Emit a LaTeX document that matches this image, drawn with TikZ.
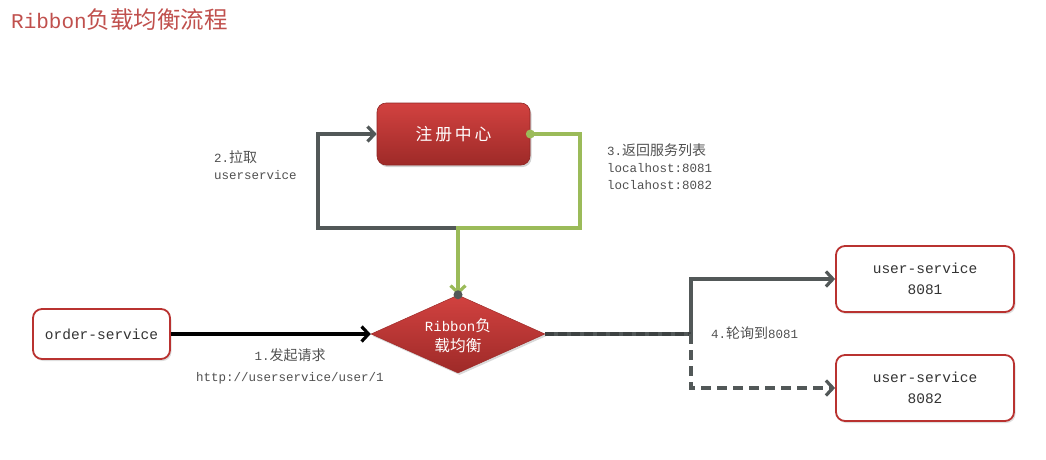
\documentclass[tikz,border=0pt]{standalone}
\usepackage{fontspec}
\setmainfont{Liberation Mono}
\newfontfamily\cjk[Scale=1.12]{Noto Sans CJK SC}
\usetikzlibrary{arrows.meta,shapes.geometric,shadows,calc}
\definecolor{titlered}{RGB}{192,80,77}
\definecolor{boxtop}{RGB}{210,66,64}
\definecolor{boxbot}{RGB}{158,42,40}
\definecolor{boxborder}{RGB}{185,50,48}
\definecolor{darkline}{RGB}{82,88,88}
\definecolor{greenline}{RGB}{155,187,89}
\definecolor{labelgray}{RGB}{80,80,80}
\tikzset{
  redbox/.style={draw=boxbot!90!black, line width=0.6pt, rounded corners=9pt,
    top color=boxtop, bottom color=boxbot, text=white,
    drop shadow={shadow xshift=1.5pt, shadow yshift=-2pt, opacity=0.35}},
  whitebox/.style={draw=boxborder, line width=1.8pt, rounded corners=9pt, fill=white,
    align=center, text=black!80,
    drop shadow={shadow xshift=1.5pt, shadow yshift=-2pt, opacity=0.25}},
  tip/.style={-{Straight Barb[length=7pt,width=15pt]}},
  dline/.style={draw=darkline, line width=3.2pt},
  gline/.style={draw=greenline, line width=3.2pt},
  lbl/.style={text=labelgray, align=left, font=\fontsize{12.5}{17}\selectfont, inner sep=0pt},
}
\begin{document}
\begin{tikzpicture}[x=1pt,y=-1pt]
\useasboundingbox (0,0) rectangle (1046,459);
% title
\node[anchor=west, text=titlered, inner sep=0pt, font=\fontsize{21}{24}\selectfont] (title) at (11,20) {Ribbon{\cjk 负载均衡流程}};
% registry
\node[redbox, minimum width=153pt, minimum height=62pt] (reg) at (453.5,134) {\cjk\fontsize{15}{18}\selectfont 注\,册\,中\,心};
% diamond
\node[diamond, draw=boxbot, line width=0.5pt, top color=boxtop, bottom color=boxbot, minimum width=174pt, minimum height=78pt, inner sep=0pt,
  drop shadow={shadow xshift=1.5pt, shadow yshift=-2pt, opacity=0.3}] (lb) at (458,334) {};
\node[text=white, align=center, font=\fontsize{14}{20}\selectfont, inner sep=0pt] (lbt) at (458,336) {Ribbon{\cjk 负}\\{\cjk 载均衡}};
% boxes
\node[whitebox, minimum width=137pt, minimum height=50pt, font=\fontsize{14.5}{18}\selectfont] (order) at (101.5,334) {order-service};
\node[whitebox, minimum width=178pt, minimum height=66pt, font=\fontsize{14.5}{21}\selectfont] (u1) at (925,279) {user-service\\8081};
\node[whitebox, minimum width=178pt, minimum height=66pt, font=\fontsize{14.5}{21}\selectfont] (u2) at (925,388) {user-service\\8082};
% connector coordinates
\coordinate (c1) at (318,228);
\coordinate (c2) at (580,228);
\coordinate (c3) at (691,334);
% pull (dark)
\draw[dline, tip] (lb.north) |- (c1) |- (reg.west);
% return list (green)
\draw[gline, tip] (reg.east) -| (c2) -| (lb.north);
\fill[greenline] (reg.east) circle (4.5pt);
\fill[darkline] (lb.north) circle (4.5pt);
% request
\draw[line width=3.2pt, black, tip] (order.east) -- (lb.west);
% round robin
\draw[dline, tip] (lb.east) -- (c3) |- (u1.west);
\draw[draw=darkline!75!black, line width=3.2pt, dash pattern=on 9pt off 4pt] (lb.east) -- (c3);
\draw[dline, dash pattern=on 10pt off 6pt, tip] (c3) |- (u2.west);
% labels
\node[lbl, anchor=north west] (l2) at (214,150) {2.{\cjk 拉取}\\userservice};
\node[lbl, anchor=north west] (l3) at (607,144) {3.{\cjk 返回服务列表}\\localhost:8081\\loclahost:8082};
\node[lbl, align=center, anchor=north, font=\fontsize{12.5}{21}\selectfont] (l1) at (290,348) {1.{\cjk 发起请求}\\http://userservice/user/1};
\node[lbl, anchor=west] (l4) at (711,333) {4.{\cjk 轮询到}8081};
\end{tikzpicture}
\end{document}
